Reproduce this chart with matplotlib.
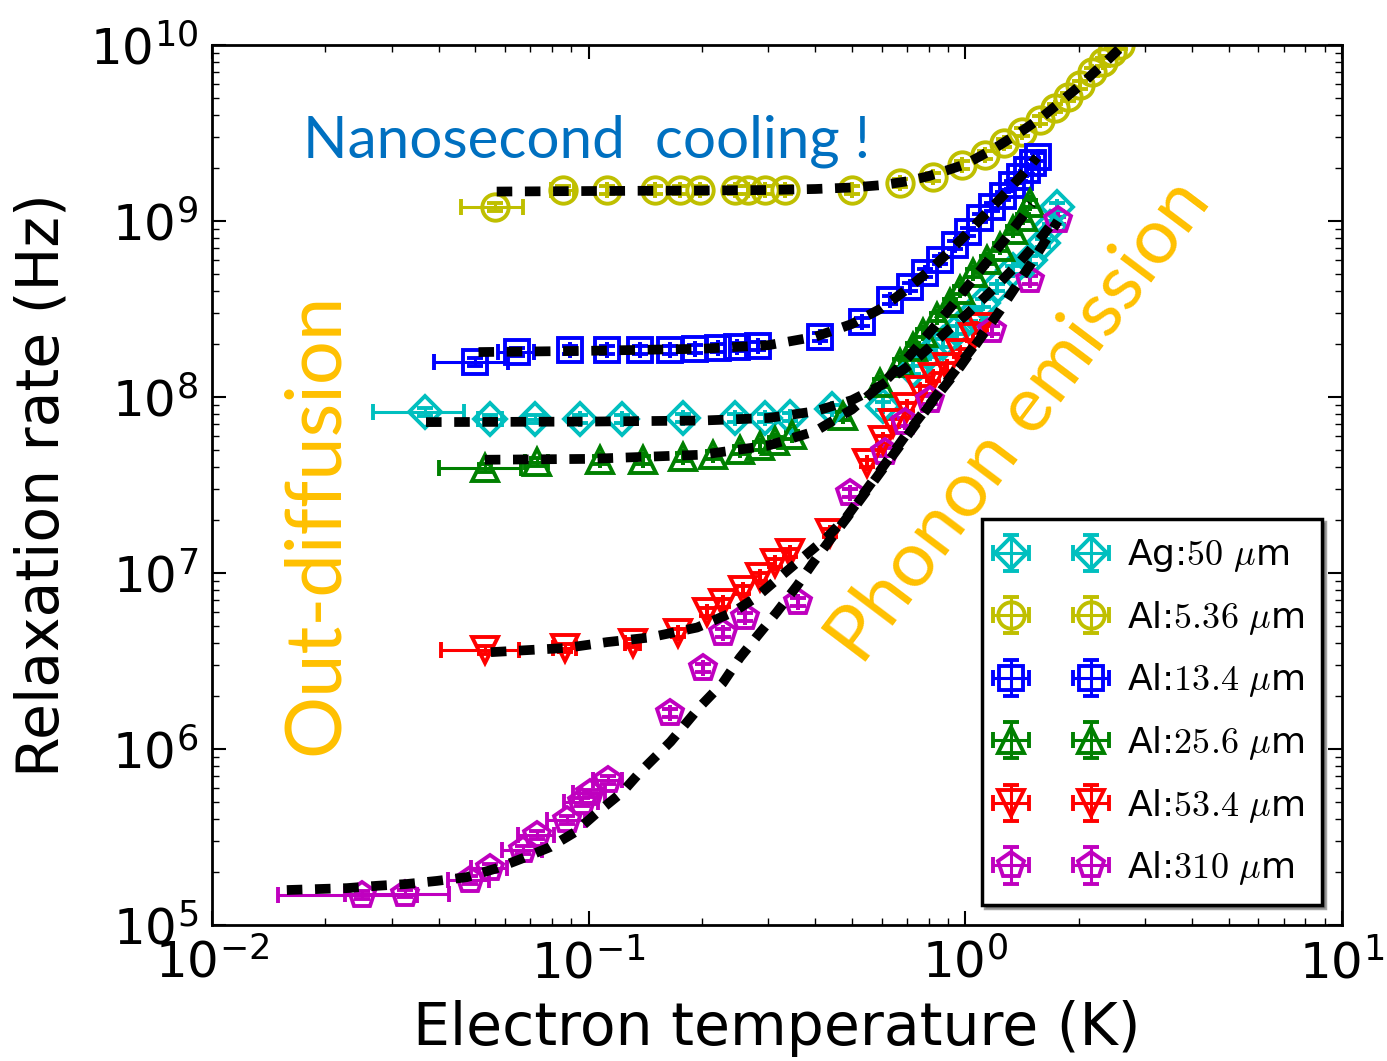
import numpy as np
import matplotlib
matplotlib.use('Agg')
from matplotlib import pyplot as plt

# measured points (temperature in K, rate in Hz)
ag_x = [0.0368, 0.0547, 0.072, 0.0948, 0.1225, 0.178, 0.245, 0.294, 0.342, 0.443, 0.604,
        0.726, 0.805, 0.873, 0.95, 1.028, 1.113, 1.213, 1.337, 1.485, 1.607, 1.68, 1.75]
ag_y = [8.2e7, 7.5e7, 7.5e7, 7.5e7, 7.5e7, 7.6e7, 7.6e7, 7.6e7, 7.7e7, 8.6e7, 8.9e7,
        1.42e8, 1.78e8, 2.03e8, 2.4e8, 2.85e8, 3.42e8, 4.2e8, 5.27e8, 6.0e8, 7.5e8, 9.2e8, 1.2e9]

al5_x = [0.0564, 0.0855, 0.112, 0.150, 0.175, 0.197, 0.245, 0.265, 0.294, 0.332, 0.500, 0.670,
         0.820, 0.980, 1.127, 1.27, 1.41, 1.58, 1.73, 1.87, 2.01, 2.17, 2.32, 2.45, 2.57]
al5_y = [1.2e9, 1.5e9, 1.5e9, 1.5e9, 1.5e9, 1.5e9, 1.5e9, 1.5e9, 1.5e9, 1.5e9, 1.5e9, 1.64e9,
         1.78e9, 2.08e9, 2.37e9, 2.77e9, 3.2e9, 3.75e9, 4.38e9, 5.07e9, 5.93e9, 7.03e9, 8.0e9, 9.1e9, 1.0e10]

al13_x = [0.0499, 0.0646, 0.0892, 0.112, 0.137, 0.164, 0.192, 0.220, 0.248, 0.281, 0.411, 0.532, 0.631,
          0.713, 0.781, 0.857, 0.938, 1.016, 1.094, 1.177, 1.258, 1.33, 1.40, 1.46, 1.51, 1.56]
al13_y = [1.58e8, 1.8e8, 1.85e8, 1.85e8, 1.85e8, 1.85e8, 1.87e8, 1.9e8, 1.93e8, 1.95e8, 2.19e8, 2.67e8, 3.56e8,
          4.22e8, 5.07e8, 6.0e8, 7.3e8, 8.7e8, 1.04e9, 1.2e9, 1.39e9, 1.6e9, 1.78e9, 1.95e9, 2.14e9, 2.31e9]

al25_x = [0.0530, 0.0729, 0.107, 0.139, 0.178, 0.214, 0.252, 0.285, 0.312, 0.347, 0.473, 0.593,
          0.67, 0.726, 0.771, 0.841, 0.910, 0.968, 1.047, 1.14, 1.236, 1.337, 1.42, 1.485]
al25_y = [3.95e7, 4.27e7, 4.39e7, 4.39e7, 4.56e7, 4.68e7, 5.0e7, 5.27e7, 5.62e7, 6.08e7, 7.8e7, 1.2e8,
          1.56e8, 1.92e8, 2.31e8, 2.85e8, 3.42e8, 4.05e8, 5.07e8, 6.0e8, 7.1e8, 8.9e8, 1.05e9, 1.26e9]

al53_x = [0.0530, 0.0865, 0.131, 0.173, 0.206, 0.227, 0.257, 0.285, 0.312, 0.342, 0.437, 0.548,
          0.604, 0.643, 0.70, 0.757, 0.82, 0.894, 0.968, 1.047, 1.1]
al53_y = [3.65e6, 3.75e6, 4.0e6, 4.56e6, 6.0e6, 6.76e6, 8.0e6, 9.5e6, 1.14e7, 1.3e7, 1.69e7, 4.2e7,
          5.7e7, 7.1e7, 8.8e7, 1.1e8, 1.3e8, 1.48e8, 1.78e8, 2.19e8, 2.5e8]

al310_x = [0.0250, 0.0325, 0.0484, 0.0547, 0.067, 0.073, 0.0875, 0.096, 0.1007, 0.1126, 0.164,
           0.201, 0.227, 0.260, 0.360, 0.494, 0.612, 0.691, 0.805, 1.177, 1.485, 1.76]
al310_y = [1.48e5, 1.51e5, 1.8e5, 2.11e5, 2.67e5, 3.25e5, 3.95e5, 5.0e5, 5.6e5, 6.67e5, 1.6e6,
           2.88e6, 4.56e6, 5.62e6, 6.84e6, 2.85e7, 4.87e7, 7.2e7, 9.6e7, 2.4e8, 4.62e8, 1.01e9]

# horizontal error bars (K), only the visible ones, rest zero
ag_xerr = [0.010, 0.004, 0.004]
al5_xerr = [0.0105, 0.006]
al13_xerr = [0.011, 0.007]
al25_xerr = [0.013, 0.005]
al53_xerr = [0.0125, 0.006, 0.006]
al310_xerr = [0.010, 0.010, 0.006, 0.006, 0.008, 0.008, 0.010, 0.010, 0.010, 0.010]
# relative vertical error
yerr_frac = 0.05

# fitted curves (black dashed)
fit_ag_x = [0.037, 0.1, 0.2, 0.3, 0.4, 0.5, 0.6, 0.7, 0.8, 0.9, 1.0, 1.2, 1.4, 1.6, 1.75]
fit_ag_y = [7.2e7, 7.25e7, 7.35e7, 7.6e7, 8.3e7, 9.6e7, 1.17e8, 1.48e8, 1.9e8, 2.4e8, 2.9e8, 4.2e8,
            5.9e8, 8.2e8, 1.05e9]
fit_al5_x = [0.057, 0.1, 0.2, 0.3, 0.4, 0.5, 0.6, 0.7, 0.8, 0.9, 1.0, 1.2, 1.4, 1.6, 1.8, 2.0,
             2.2, 2.4, 2.6, 2.8]
fit_al5_y = [1.47e9, 1.48e9, 1.49e9, 1.5e9, 1.52e9, 1.55e9, 1.6e9, 1.68e9, 1.8e9, 1.95e9, 2.1e9,
             2.6e9, 3.2e9, 3.9e9, 4.8e9, 5.8e9, 7.0e9, 8.3e9, 9.8e9, 1.15e10]
fit_al13_x = [0.051, 0.1, 0.2, 0.3, 0.4, 0.5, 0.6, 0.7, 0.8, 0.9, 1.0, 1.1, 1.2, 1.3, 1.4, 1.55]
fit_al13_y = [1.8e8, 1.83e8, 1.88e8, 1.97e8, 2.2e8, 2.6e8, 3.2e8, 4.1e8, 5.2e8, 6.6e8, 8.3e8,
              1.03e9, 1.25e9, 1.5e9, 1.78e9, 2.3e9]
fit_al25_x = [0.053, 0.1, 0.2, 0.3, 0.4, 0.5, 0.6, 0.7, 0.8, 0.9, 1.0, 1.1, 1.2, 1.3, 1.4, 1.5]
fit_al25_y = [4.4e7, 4.45e7, 4.7e7, 5.3e7, 6.4e7, 8.5e7, 1.18e8, 1.65e8, 2.3e8, 3.1e8, 4.1e8,
              5.3e8, 6.7e8, 8.3e8, 1.02e9, 1.25e9]
fit_al53_x = [0.055, 0.087, 0.112, 0.145, 0.194, 0.242, 0.279, 0.322, 0.363, 0.43, 0.484, 0.57,
              0.70, 0.82, 0.93, 1.05, 1.12]
fit_al53_y = [3.55e6, 3.75e6, 4.05e6, 4.3e6, 4.9e6, 6.0e6, 7.3e6, 9.5e6, 1.18e7, 1.6e7, 2.08e7,
              3.37e7, 6.2e7, 9.6e7, 1.37e8, 1.93e8, 2.35e8]
fit_al310_x = [0.0158, 0.019, 0.0228, 0.0274, 0.0329, 0.0395, 0.0475, 0.057, 0.067, 0.079, 0.092,
               0.106, 0.123, 0.137, 0.165, 0.197, 0.227, 0.252, 0.279, 0.316, 0.358, 0.394, 0.437,
               0.484, 0.57, 0.70, 0.82, 0.968, 1.236, 1.5, 1.76]
fit_al310_y = [1.58e5, 1.6e5, 1.62e5, 1.67e5, 1.71e5, 1.78e5, 1.87e5, 2.1e5, 2.4e5, 2.77e5, 3.37e5,
               4.4e5, 5.7e5, 7.4e5, 1.1e6, 1.73e6, 2.37e6, 3.3e6, 4.33e6, 6.0e6, 8.5e6, 1.14e7, 1.54e7,
               2.05e7, 3.3e7, 6.0e7, 9.5e7, 1.48e8, 3.1e8, 5.8e8, 1.0e9]

labels = [r'Ag:$50\ \mu$m', r'Al:$5.36\ \mu$m', r'Al:$13.4\ \mu$m',
          r'Al:$25.6\ \mu$m', r'Al:$53.4\ \mu$m', r'Al:$310\ \mu$m']

plt.rcParams['axes.unicode_minus'] = False

fig = plt.figure(figsize=(13.87, 10.61), dpi=100)
ax = fig.add_axes([212 / 1387, 1 - 925 / 1061, 1130 / 1387, 880 / 1061])

data = [
    (ag_x, ag_y, ag_xerr, 'D', 'c', 16),
    (al5_x, al5_y, al5_xerr, 'o', 'y', 19),
    (al13_x, al13_y, al13_xerr, 's', 'b', 17),
    (al25_x, al25_y, al25_xerr, '^', 'g', 19),
    (al53_x, al53_y, al53_xerr, 'v', 'r', 19),
    (al310_x, al310_y, al310_xerr, 'p', 'm', 19),
]
fits = [(fit_ag_x, fit_ag_y), (fit_al5_x, fit_al5_y), (fit_al13_x, fit_al13_y),
        (fit_al25_x, fit_al25_y), (fit_al53_x, fit_al53_y), (fit_al310_x, fit_al310_y)]

for (x, y, xe, mk, col, ms), lab in zip(data, labels):
    x = np.array(x)
    y = np.array(y)
    xerr = np.zeros(len(x))
    xerr[:len(xe)] = xe
    ax.errorbar(x, y, xerr=xerr, yerr=y * yerr_frac, fmt=mk, color=col, mfc='none', mec=col,
                mew=2.8, ms=ms, elinewidth=2.2, capsize=6, capthick=2.5, label=lab)

for fx, fy in fits:
    ax.plot(fx, fy, color='k', lw=7, dashes=(1.6, 1.3), zorder=5)

ax.set_xscale('log')
ax.set_yscale('log')
ax.set_xlim(1e-2, 1e1)
ax.set_ylim(1e5, 1e10)
ax.set_xlabel('Electron temperature (K)', fontsize=42, labelpad=8)
ax.set_ylabel('Relaxation rate (Hz)', fontsize=42, labelpad=14)
ax.tick_params(which='both', direction='in', top=True, right=True)
ax.tick_params(which='major', length=10, width=1.5, labelsize=36, pad=10)
ax.tick_params(which='minor', length=5, width=1)
for sp in ax.spines.values():
    sp.set_linewidth(2)

leg = ax.legend(loc='lower right', numpoints=2, fontsize=26, shadow=True, fancybox=False,
                framealpha=1, edgecolor='k', borderaxespad=0.55, labelspacing=0.68,
                handlelength=2.8, handletextpad=0.7, borderpad=0.5)
leg.get_frame().set_linewidth(2.5)
for t in leg.get_texts():
    t.set_math_fontfamily('cm')

fig.text(303 / 1387, 1 - 158 / 1061, 'Nanosecond  cooling !', color='#0070C0', fontsize=42,
         family='Lato', ha='left', va='baseline')
fig.text(338 / 1387, 1 - 755 / 1061, 'Out-diffusion', color='#FFC000', fontsize=56,
         family='Lato', rotation=90, rotation_mode='anchor', ha='left', va='baseline')
fig.text(862 / 1387, 1 - 667 / 1061, 'Phonon emission', color='#FFC000', fontsize=56,
         family='Lato', rotation=53, rotation_mode='anchor', ha='left', va='baseline')

fig.savefig('out.png', dpi=100)
